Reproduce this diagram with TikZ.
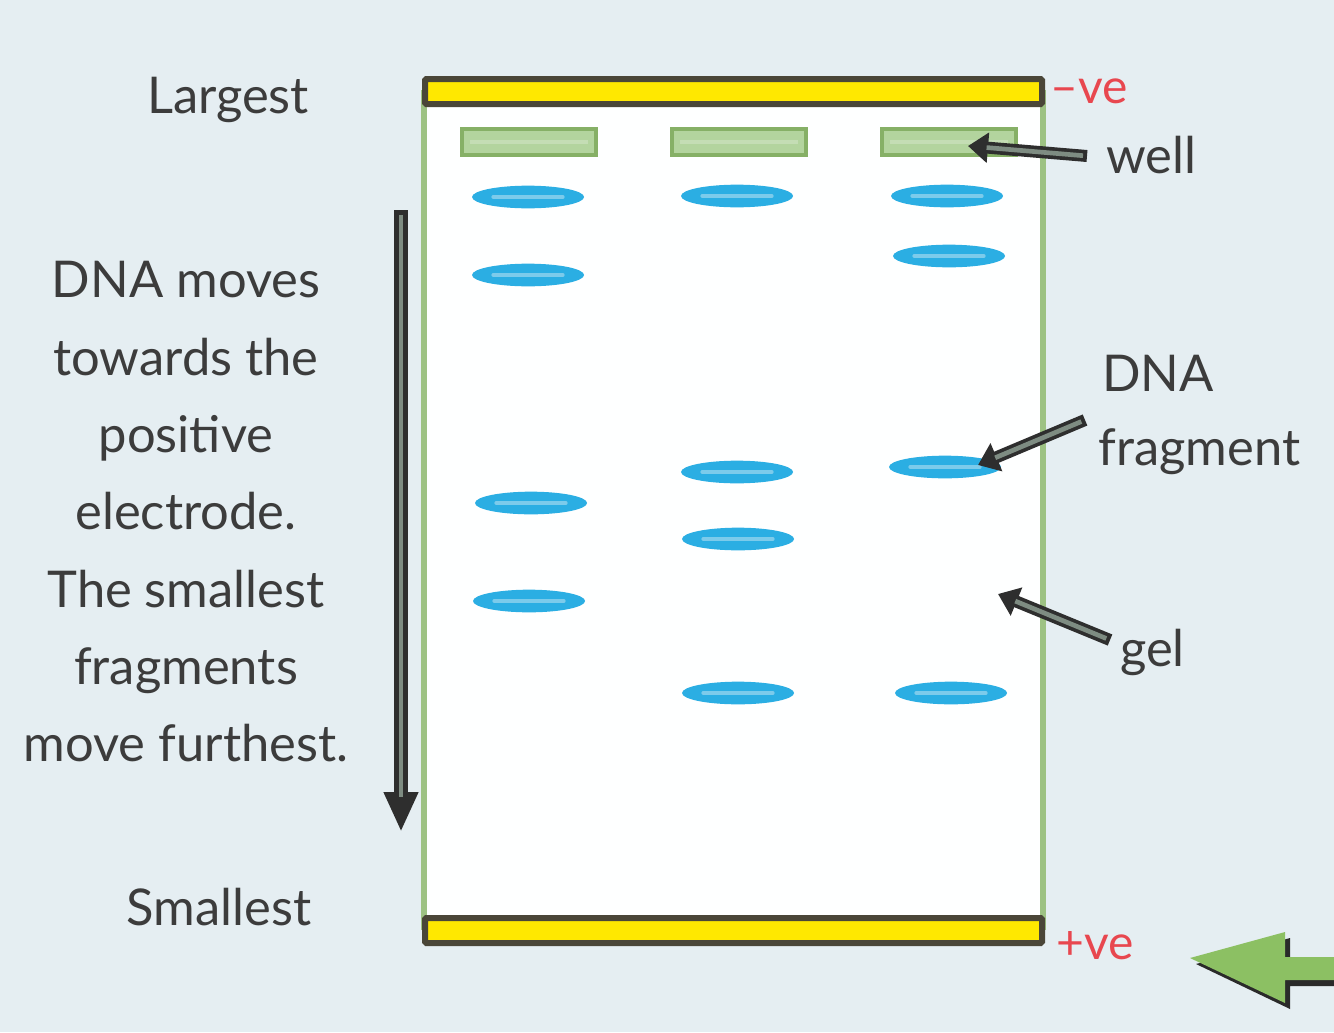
\documentclass[tikz,border=0pt]{standalone}
\usepackage{fontspec}
\setmainfont{Lato}
\usetikzlibrary{arrows.meta,calc,shapes.geometric}
\definecolor{bg}{HTML}{E5EEF2}
\definecolor{gelgreen}{HTML}{9DC283}
\definecolor{wellfill}{HTML}{B3D49E}
\definecolor{welllite}{HTML}{C4DDB4}
\definecolor{welldraw}{HTML}{86B066}
\definecolor{bandcol}{HTML}{2BAEE3}
\definecolor{bandlite}{HTML}{7CCBEB}
\definecolor{elyellow}{HTML}{FFE800}
\definecolor{eldark}{HTML}{4A4638}
\definecolor{txt}{HTML}{3C3C3C}
\definecolor{redtxt}{HTML}{E8474F}
\definecolor{arrdark}{HTML}{2E2E2E}
\definecolor{arrlite}{HTML}{7E8C82}
\definecolor{bigarrow}{HTML}{8CC063}
\definecolor{bigshadow}{HTML}{2A2A2A}
\begin{document}
\begin{tikzpicture}[x=0.75pt,y=-0.75pt,
  lbl/.style={text=txt, font=\fontsize{38}{42}\selectfont, inner sep=0pt},
  pole/.style={text=redtxt, font=\fontsize{36}{40}\selectfont, inner sep=0pt},
  electrode/.style={fill=elyellow, draw=eldark, line width=4.5pt, rounded corners=1pt},
  wellbox/.style={rectangle, fill=wellfill, draw=welldraw, line width=3pt, minimum width=101pt, minimum height=20pt, inner sep=0pt,
    path picture={\draw[welllite, line width=3.5pt]
      ([xshift=-44pt]path picture bounding box.center) -- ([xshift=44pt]path picture bounding box.center);}},
  bandnode/.style={ellipse, fill=bandcol, minimum width=84pt, minimum height=17pt, inner sep=0pt,
    path picture={\draw[bandlite, line width=3pt, line cap=round]
      ([xshift=-26pt]path picture bounding box.center) -- ([xshift=26pt]path picture bounding box.center);}},
  pointer/.style={arrdark, line width=9pt, -{Triangle[length=15pt,width=22pt]}},
  pointerin/.style={arrlite, line width=3.5pt, shorten >=14pt, shorten <=3pt}
]
\useasboundingbox (0,0) rectangle (1334,1032);
\fill[bg] (0,0) rectangle (1334,1032);

% gel
\fill[white!98!bg] (424,90) rectangle (1043,930);
\draw[gelgreen, line width=3.8pt] (424,90) -- (424,930);
\draw[gelgreen, line width=3.8pt] (1043,90) -- (1043,930);

% electrodes
\draw[electrode] (425,79) rectangle (1042,104);
\draw[electrode] (425,918) rectangle (1042,943);

% wells
\node[wellbox] (w1) at (529,142) {};
\node[wellbox] (w2) at (739,142) {};
\node[wellbox] (w3) at (949,142) {};

% bands
\node[bandnode] (b11) at (528,197) {};
\node[bandnode] (b12) at (528,275) {};
\node[bandnode] (b13) at (531,503) {};
\node[bandnode] (b14) at (529,601) {};
\node[bandnode] (b21) at (737,196) {};
\node[bandnode] (b22) at (737,472) {};
\node[bandnode] (b23) at (738,539) {};
\node[bandnode] (b24) at (738,693) {};
\node[bandnode] (b31) at (947,196) {};
\node[bandnode] (b32) at (949,256) {};
\node[bandnode] (b33) at (945,467) {};
\node[bandnode] (b34) at (951,693) {};

% left texts
\node[lbl] (largest) at (228,100) {Largest};
\node[lbl] (smallest) at (219,907) {Smallest};
\node[lbl, align=center, font=\fontsize{38}{58}\selectfont] (expl) at (186,512)
  {DNA moves\\towards the\\positive\\electrode.\\The smallest\\fragments\\move furthest.};

% downward arrow
\coordinate (dtop) at (401,210);
\coordinate (dbot) at (401,832);
\draw[arrdark, line width=10pt, -{Triangle[length=30pt,width=24pt]}] (dtop) -- (dbot);
\draw[arrlite, line width=3.5pt, shorten >=26pt, shorten <=4pt] (dtop) -- (dbot);

% right labels
\node[pole, anchor=west] (neg) at (1050,91) {–ve};
\node[pole, anchor=west] (pos) at (1056,946) {+ve};
\node[lbl, anchor=west] (well) at (1106,155) {well};
\node[lbl, anchor=west] (dna) at (1102,373) {DNA};
\node[lbl, anchor=west] (frag) at (1098,452) {fragment};
\node[lbl, anchor=west] (gel) at (1120,652) {gel};

% pointers
\coordinate (wellS) at (1087,156);
\coordinate (wellE) at (968,146);
\draw[pointer] (wellS) -- (wellE);
\draw[pointerin] (wellS) -- (wellE);
\coordinate (fragS) at (1085,420);
\coordinate (fragE) at (978,465);
\draw[pointer] (fragS) -- (fragE);
\draw[pointerin] (fragS) -- (fragE);
\coordinate (gelS) at (1110,640);
\coordinate (gelE) at (998,594);
\draw[pointer] (gelS) -- (gelE);
\draw[pointerin] (gelS) -- (gelE);

% big green arrow (partly off the page)
\begin{scope}
\clip (0,0) rectangle (1334,1032);
\fill[bigshadow] (1196,964) -- (1290,938) -- (1290,963) -- (1345,963) -- (1345,986) -- (1290,986) -- (1290,1009) -- cycle;
\fill[bigarrow] (1190,958) -- (1285,932) -- (1285,957) -- (1340,957) -- (1340,980) -- (1285,980) -- (1285,1003) -- cycle;
\end{scope}
\end{tikzpicture}
\end{document}
